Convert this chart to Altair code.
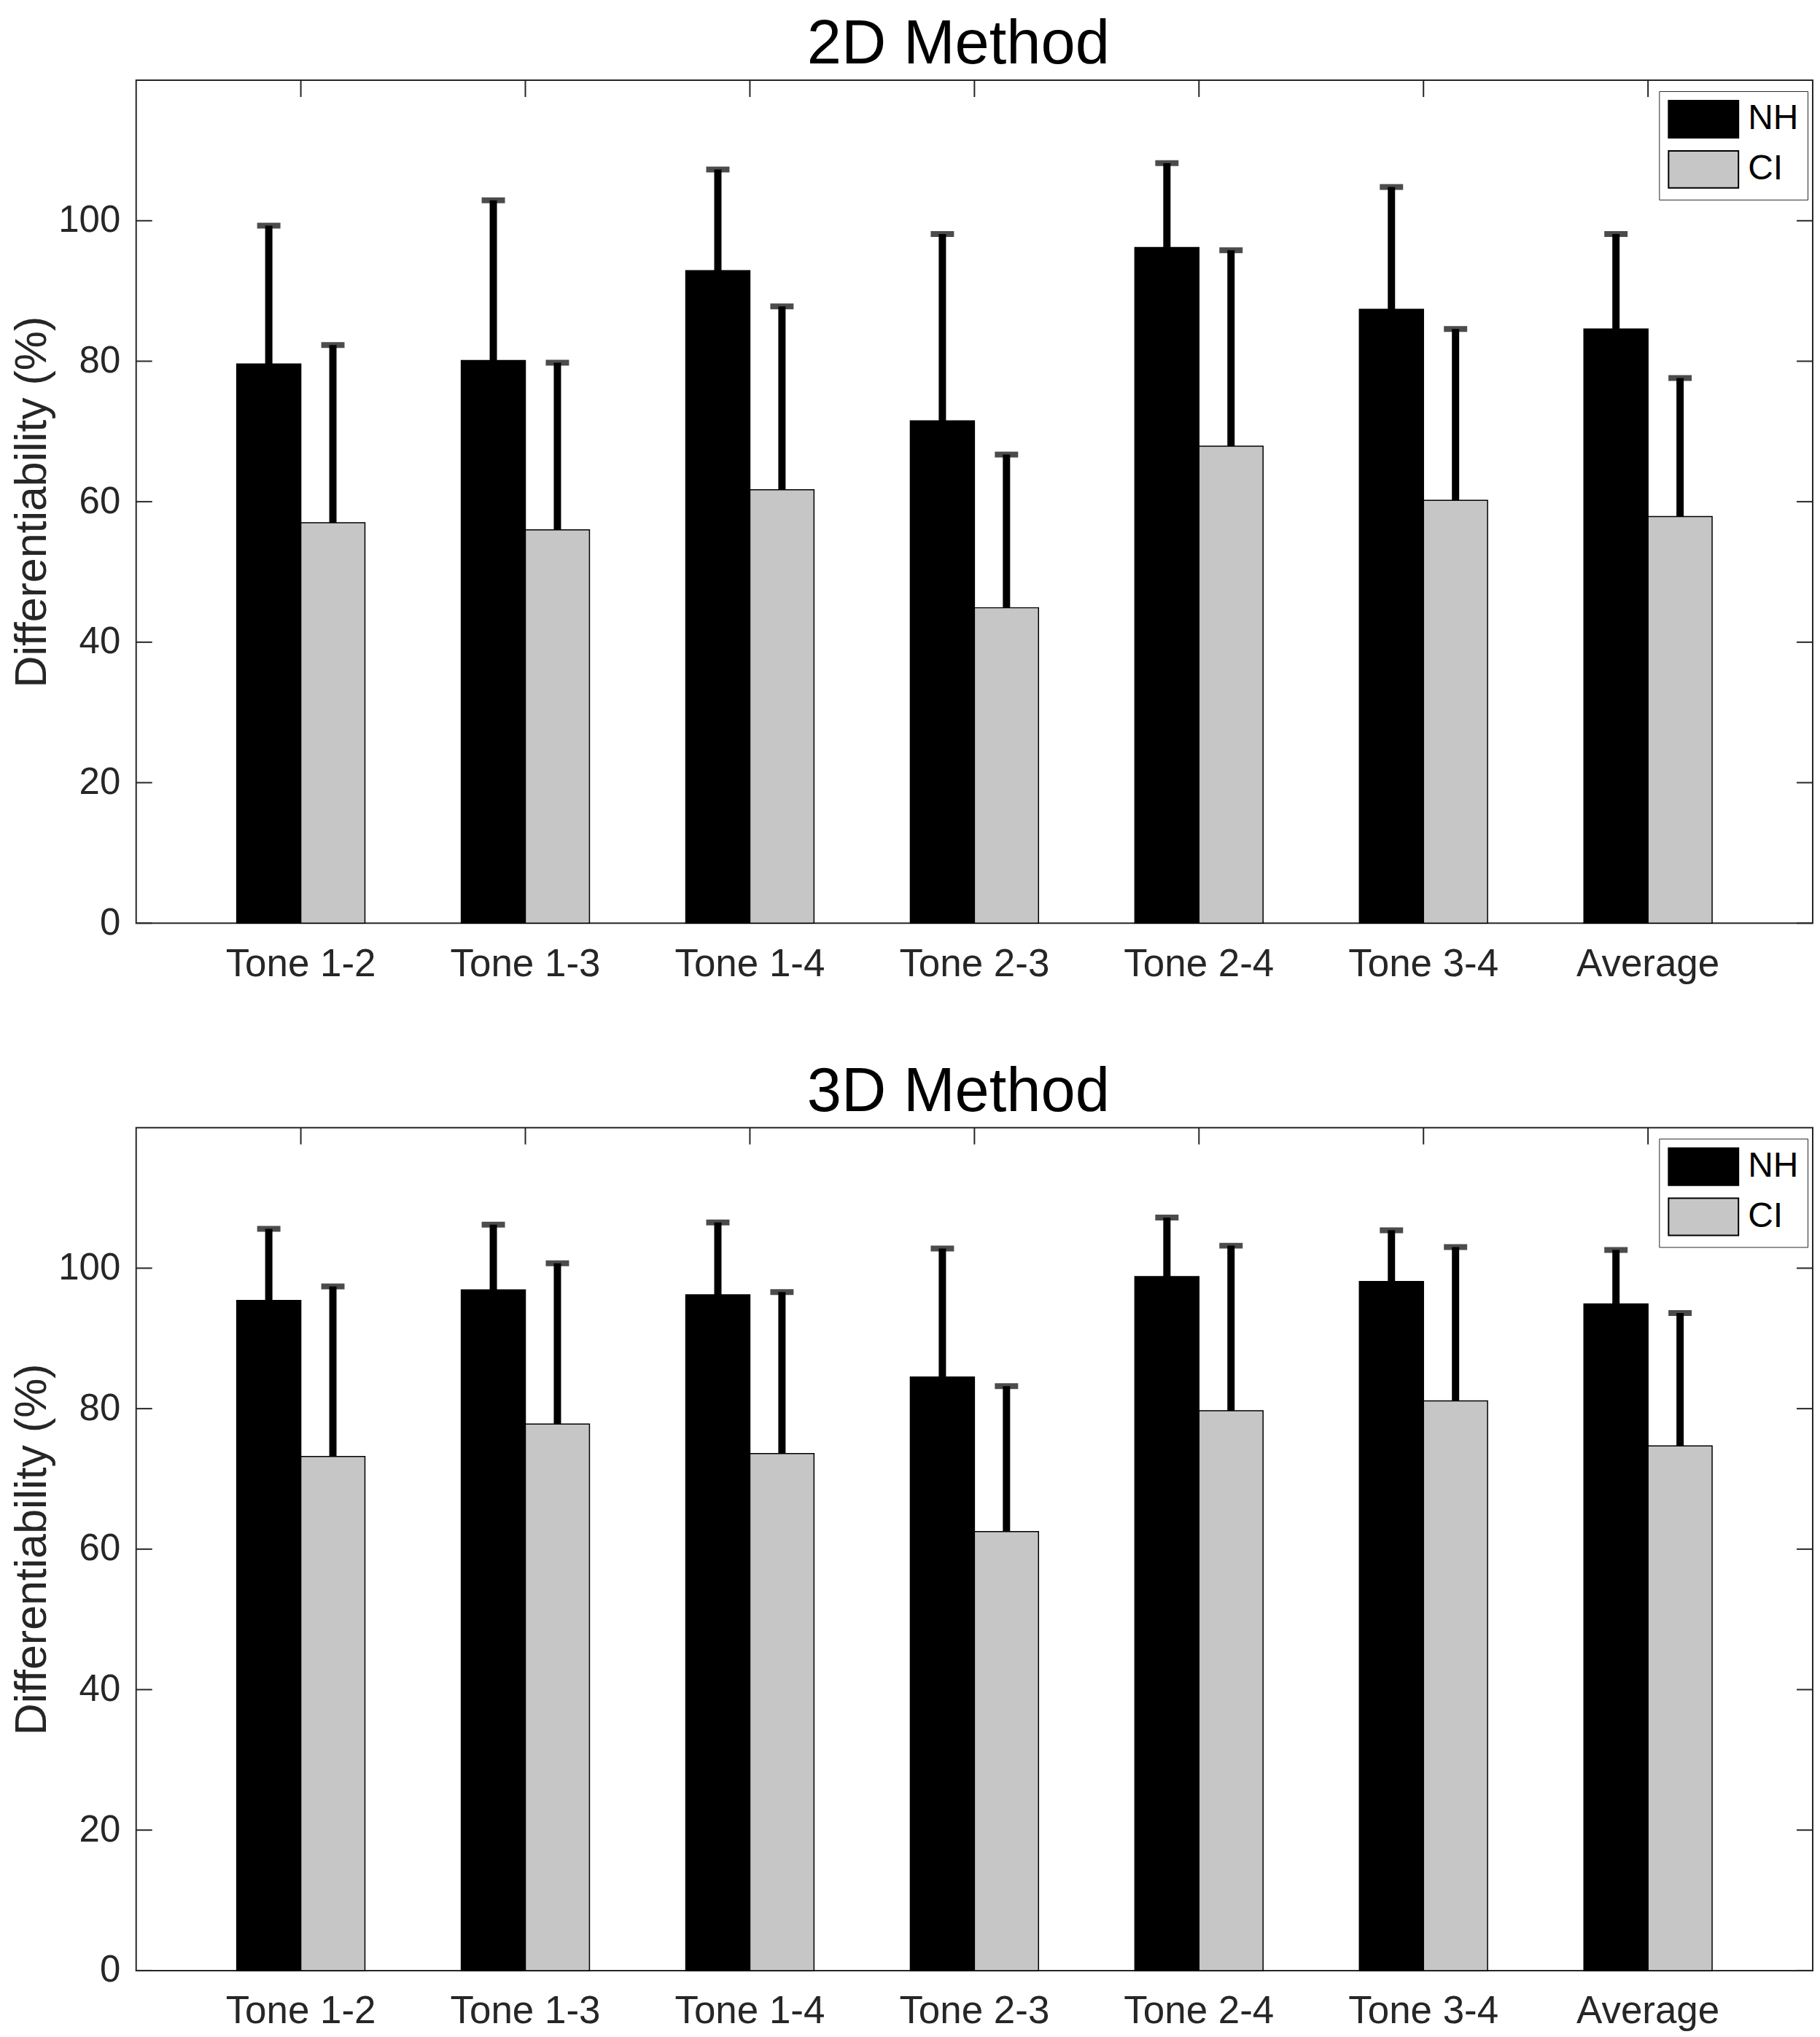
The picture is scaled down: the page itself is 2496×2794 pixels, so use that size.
import altair as alt
import pandas as pd

categories = ["Tone 1-2", "Tone 1-3", "Tone 1-4", "Tone 2-3", "Tone 2-4", "Tone 3-4", "Average"]
groups = ["NH", "CI"]
y_ticks = [0, 20, 40, 60, 80, 100]

# 2D method: means and upper error (SD)
nh_2d = [79.6, 80.1, 92.9, 71.5, 96.2, 87.4, 84.6]
nh_2d_sd = [19.7, 22.8, 14.4, 26.6, 12.0, 17.4, 13.5]
ci_2d = [57.0, 56.0, 61.7, 44.9, 67.9, 60.2, 57.9]
ci_2d_sd = [25.3, 23.8, 26.1, 21.8, 27.9, 24.4, 19.7]

# 3D method
nh_3d = [95.4, 96.9, 96.2, 84.5, 98.8, 98.1, 94.9]
nh_3d_sd = [10.2, 9.3, 10.3, 18.3, 8.4, 7.3, 7.7]
ci_3d = [73.2, 77.8, 73.6, 62.5, 79.7, 81.1, 74.7]
ci_3d_sd = [24.2, 22.9, 23.0, 20.7, 23.5, 21.9, 18.9]

W, H = 2303, 1158
AXC = "#262626"
FONT = "Liberation Sans"


def make_df(nh, nh_sd, ci, ci_sd):
    rows = []
    for i, c in enumerate(categories):
        rows.append({"category": c, "group": "NH", "mean": nh[i], "top": nh[i] + nh_sd[i]})
        rows.append({"category": c, "group": "CI", "mean": ci[i], "top": ci[i] + ci_sd[i]})
    return pd.DataFrame(rows)


yscale = alt.Scale(domain=[0, 120], nice=False, zero=True)
yaxis = alt.Axis(values=y_ticks, title="Differentiability (%)", ticks=False, domain=False,
                 grid=False, labelFontSize=51, labelPadding=22, labelColor=AXC,
                 titleFontSize=61, titleColor=AXC, titleFontWeight="normal", titlePadding=4)
xscale = alt.Scale(domain=categories, paddingInner=0.429, paddingOuter=0.448)
xaxis = alt.Axis(title=None, ticks=False, domain=False, labelAngle=0, labelFontSize=53,
                 labelPadding=30, labelColor=AXC, labelLimit=0)
xoff = alt.XOffset("group:N", sort=groups,
                   scale=alt.Scale(domain=groups, paddingInner=0, paddingOuter=0))


def panel(title, nh, nh_sd, ci, ci_sd):
    df = make_df(nh, nh_sd, ci, ci_sd)
    X = alt.X("category:N", sort=categories, scale=xscale, axis=xaxis)
    base = alt.Chart(df).encode(x=X, xOffset=xoff)

    bars = base.mark_bar(stroke="black", strokeWidth=1.5).encode(
        y=alt.Y("mean:Q", scale=yscale, axis=yaxis),
        color=alt.Color("group:N", sort=groups,
                        scale=alt.Scale(domain=groups, range=["#000000", "#c6c6c6"]),
                        legend=alt.Legend(title=None, orient="none", legendX=2092, legendY=15,
                                          direction="vertical",
                                          symbolType="M-1,-1H2.765V1H-1Z", symbolSize=2601,
                                          symbolStrokeColor="black", symbolStrokeWidth=2,
                                          labelFontSize=48, labelColor="black", labelOffset=57,
                                          rowPadding=10, padding=12, strokeColor=AXC,
                                          fillColor="white", labelFont=FONT)),
    )
    stems = base.mark_rule(strokeWidth=10, color="black").encode(
        y=alt.Y("mean:Q", scale=yscale, axis=yaxis), y2="top:Q"
    )
    caps = base.mark_tick(size=32, thickness=8, color="black", orient="horizontal").encode(
        y=alt.Y("top:Q", scale=yscale, axis=yaxis)
    )

    tdf = pd.DataFrame({"v": y_ticks})
    lt = alt.Chart(tdf).mark_rule(color=AXC, strokeWidth=2).encode(
        y=alt.Y("v:Q", scale=yscale, axis=yaxis), x=alt.value(0), x2=alt.value(22))
    rt = alt.Chart(tdf).mark_rule(color=AXC, strokeWidth=2).encode(
        y=alt.Y("v:Q", scale=yscale, axis=yaxis), x=alt.value(W - 22), x2=alt.value(W))
    cdf = pd.DataFrame({"category": categories})
    tt = alt.Chart(cdf).mark_rule(color=AXC, strokeWidth=2).encode(
        x=alt.X("category:N", sort=categories, scale=xscale, axis=xaxis),
        y=alt.value(0), y2=alt.value(23))

    return alt.layer(lt, rt, tt, bars, stems, caps).properties(
        width=W, height=H,
        title=alt.TitleParams(title, fontSize=85, fontWeight="normal", color="black",
                              font=FONT, anchor="middle", frame="group",
                              offset=4, dx=-22),
    )


p1 = panel("2D Method", nh_2d, nh_2d_sd, ci_2d, ci_2d_sd)
p2 = panel("3D Method", nh_3d, nh_3d_sd, ci_3d, ci_3d_sd)

chart = alt.vconcat(p1, p2, spacing=105).resolve_scale(
    color="independent", x="independent", y="independent"
).resolve_legend(color="independent").properties(
    padding={"left": 4, "top": 8, "right": 0, "bottom": 0}
).configure(
    font=FONT, background="white"
).configure_view(stroke=AXC, strokeWidth=2)

chart.save("out.html", embed_options={"renderer": "svg", "actions": False})
